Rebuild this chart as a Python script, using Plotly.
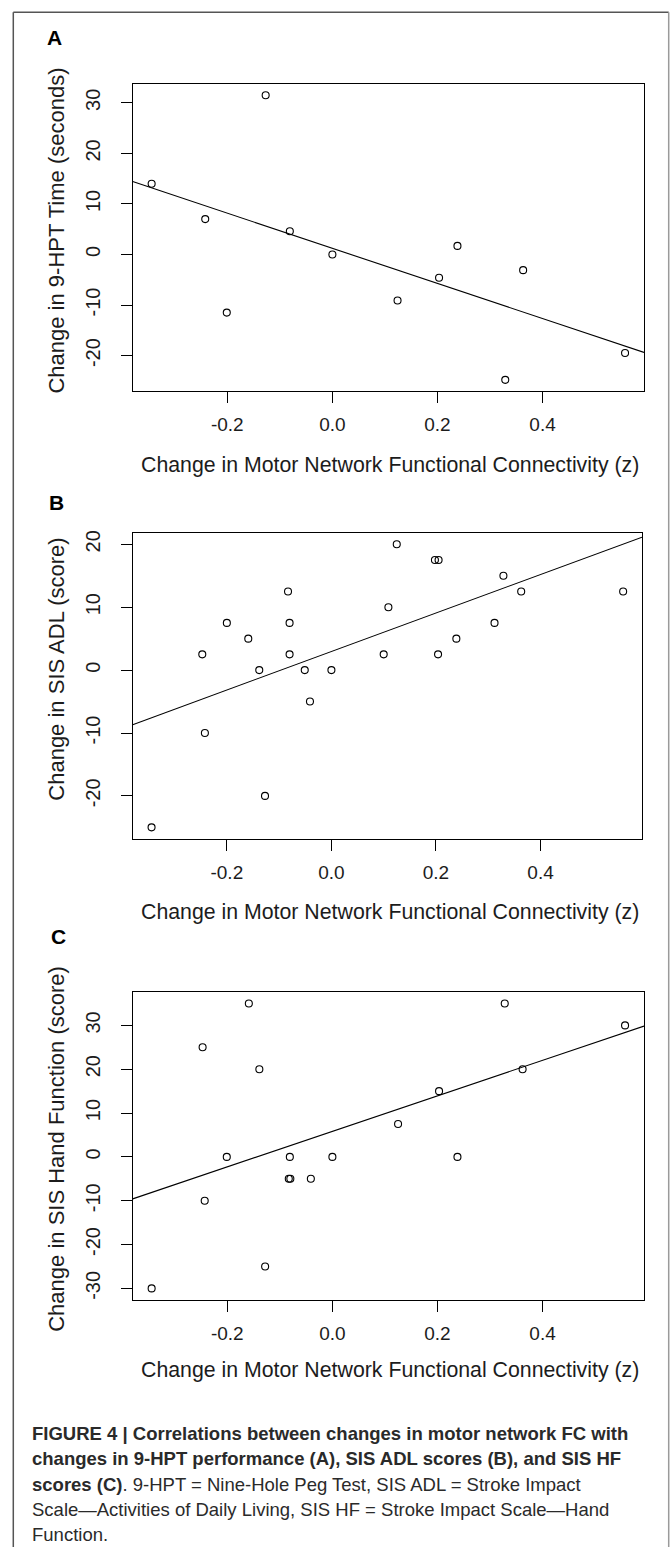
import numpy as np
import plotly.graph_objects as go

W, H = 671, 1547

# ---------------- data ----------------
a_x = [-0.344, -0.242, -0.201, -0.127, -0.081, 0.000, 0.124, 0.203, 0.238, 0.329, 0.363, 0.557]
a_y = [14.0, 7.0, -11.5, 31.5, 4.6, 0.0, -9.1, -4.6, 1.7, -24.8, -3.1, -19.5]

b_x = [-0.344, -0.247, -0.242, -0.200, -0.159, -0.138, -0.127, -0.083, -0.080, -0.080,
       -0.051, -0.041, 0.000, 0.100, 0.109, 0.125, 0.198, 0.205, 0.204, 0.239,
       0.312, 0.329, 0.363, 0.558]
b_y = [-25, 2.5, -10, 7.5, 5, 0, -20, 12.5, 7.5, 2.5,
       0, -5, 0, 2.5, 10, 20, 17.5, 17.5, 2.5, 5,
       7.5, 15, 12.5, 12.5]

c_x = [-0.344, -0.247, -0.243, -0.201, -0.159, -0.139, -0.128, -0.081, -0.083, -0.080,
       -0.041, 0.000, 0.125, 0.203, 0.238, 0.328, 0.362, 0.557]
c_y = [-30, 25, -10, 0, 35, 20, -25, 0, -5, -5,
       -5, 0, 7.5, 15, 0, 35, 20, 30]

x_ticks = [-0.2, 0.0, 0.2, 0.4]
x_tick_labels = ["-0.2", "0.0", "0.2", "0.4"]
a_y_ticks = [-20, -10, 0, 10, 20, 30]
b_y_ticks = [-20, -10, 0, 10, 20]
c_y_ticks = [-30, -20, -10, 0, 10, 20, 30]

x_title = "Change in Motor Network Functional Connectivity (z)"
y_titles = ["Change in 9-HPT Time (seconds)", "Change in SIS ADL (score)",
            "Change in SIS Hand Function (score)"]
panel_labels = ["A", "B", "C"]

caption_lines = [
    "<b>FIGURE 4 | Correlations between changes in motor network FC with</b>",
    "<b>changes in 9-HPT performance (A), SIS ADL scores (B), and SIS HF</b>",
    "<b>scores (C)</b>. 9-HPT = Nine-Hole Peg Test, SIS ADL = Stroke Impact",
    "Scale\u2014Activities of Daily Living, SIS HF = Stroke Impact Scale\u2014Hand",
    "Function.",
]

# ---------------- layout helpers ----------------
def px(x):
    return x / W

def py(y):
    return 1 - y / H

SANS = "Liberation Sans, Arial, sans-serif"
INK = "#1c1c1c"

panels = [
    dict(x=a_x, y=a_y, yt=a_y_ticks, box=(132.7, 644, 81, 389),
         ytc=228, xtc=462.5, lab=(55, 35)),
    dict(x=b_x, y=b_y, yt=b_y_ticks, box=(132.7, 642, 531, 837.3),
         ytc=668, xtc=911, lab=(56, 500)),
    dict(x=c_x, y=c_y, yt=c_y_ticks, box=(132.7, 644, 991, 1299.3),
         ytc=1148, xtc=1370, lab=(58, 935)),
]

def r_range(v):
    lo, hi = min(v), max(v)
    d = (hi - lo) * 0.04
    return [lo - d, hi + d]

def fmt(v):
    return str(int(v))

fig = go.Figure()
annotations = []
layout_axes = {}

for i, p in enumerate(panels):
    n = "" if i == 0 else str(i + 1)
    xa, ya = "x" + n, "y" + n
    xr = r_range(p["x"])
    yr = r_range(p["y"])
    slope, icpt = np.polyfit(p["x"], p["y"], 1)
    fig.add_trace(go.Scatter(
        x=xr, y=[icpt + slope * xr[0], icpt + slope * xr[1]],
        mode="lines", line=dict(color="black", width=1.1),
        xaxis=xa, yaxis=ya, showlegend=False, hoverinfo="skip"))
    fig.add_trace(go.Scatter(
        x=p["x"], y=p["y"], mode="markers",
        marker=dict(symbol="circle-open", size=7, color="black",
                    line=dict(width=1.1, color="black")),
        xaxis=xa, yaxis=ya, showlegend=False))
    l, r, t, b = p["box"]
    layout_axes["xaxis" + n] = dict(
        domain=[px(l), px(r)], range=xr, anchor=ya,
        tickvals=x_ticks, ticktext=x_tick_labels, ticks="outside", ticklen=11,
        tickwidth=1, tickcolor="black", showline=True, linecolor="black",
        linewidth=1.2, mirror=True, showgrid=False, zeroline=False,
        ticklabelstandoff=5,
        tickfont=dict(family=SANS, size=19, color=INK))
    layout_axes["yaxis" + n] = dict(
        domain=[py(b), py(t)], range=yr, anchor=xa,
        tickvals=p["yt"], ticktext=[fmt(v) for v in p["yt"]],
        ticks="outside", ticklen=11, tickangle=-90,
        tickwidth=1, tickcolor="black", showline=True, linecolor="black",
        linewidth=1.2, mirror=True, showgrid=False, zeroline=False,
        ticklabelstandoff=13,
        tickfont=dict(family=SANS, size=20, color=INK))
    annotations.append(dict(
        x=px(57), y=py(p["ytc"]), xref="paper", yref="paper",
        text=y_titles[i], textangle=-90, showarrow=False,
        xanchor="center", yanchor="middle",
        font=dict(family=SANS, size=22, color=INK)))
    annotations.append(dict(
        x=px(390), y=py(p["xtc"]), xref="paper", yref="paper",
        text=x_title, showarrow=False, xanchor="center", yanchor="middle",
        font=dict(family=SANS, size=21.3, color=INK)))
    annotations.append(dict(
        x=px(p["lab"][0]), y=py(p["lab"][1]), xref="paper", yref="paper",
        text="<b>" + panel_labels[i] + "</b>", showarrow=False,
        xanchor="center", yanchor="middle",
        font=dict(family=SANS, size=21, color="black")))

cap_y = [1433, 1458.5, 1484, 1509.5, 1534.5]
for line, yc in zip(caption_lines, cap_y):
    annotations.append(dict(
        x=px(30), y=py(yc), xref="paper", yref="paper", text=line,
        showarrow=False, xanchor="left", yanchor="middle",
        font=dict(family=SANS, size=18.5, color="#2a2a2a")))

shapes = [
    dict(type="line", xref="paper", yref="paper", x0=px(13.3), x1=px(13.3),
         y0=py(9.3), y1=0, line=dict(color="#555555", width=1.5)),
    dict(type="line", xref="paper", yref="paper", x0=px(13.3), x1=px(668.7),
         y0=py(9.3), y1=py(9.3), line=dict(color="#555555", width=1.5)),
    dict(type="line", xref="paper", yref="paper", x0=px(668.7), x1=px(668.7),
         y0=py(9.3), y1=0, line=dict(color="#9a9a9a", width=1.5)),
]

fig.update_layout(
    width=W, height=H, margin=dict(l=0, r=0, t=0, b=0),
    paper_bgcolor="white", plot_bgcolor="white",
    annotations=annotations, shapes=shapes, showlegend=False,
    **layout_axes)

fig.write_html("out.html")
